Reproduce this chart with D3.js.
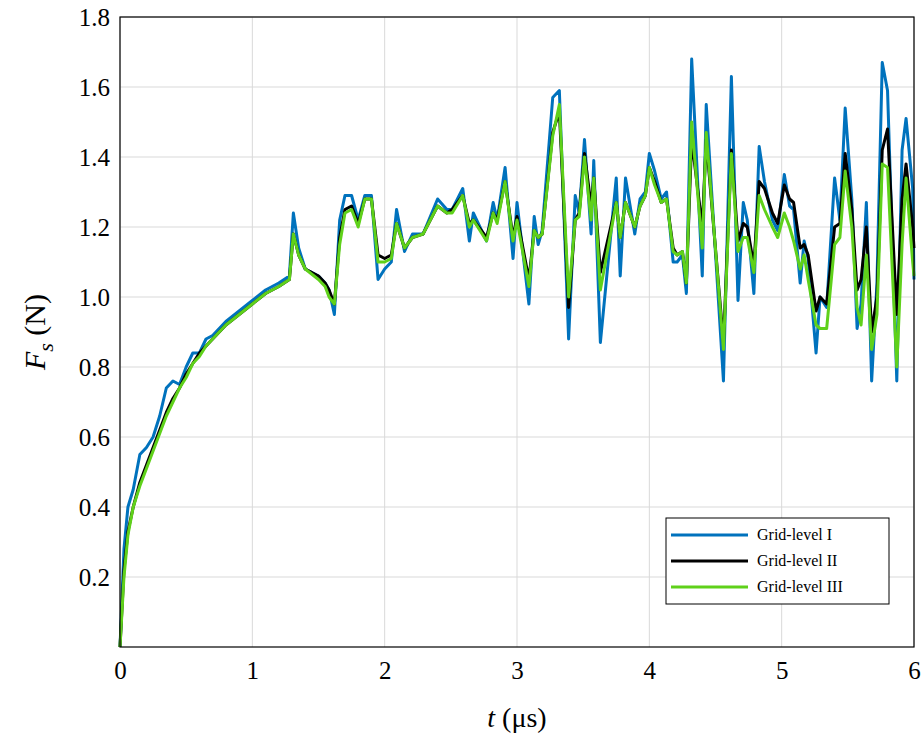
<!DOCTYPE html><html><head><meta charset="utf-8">
<script src="https://cdn.jsdelivr.net/npm/d3@7"></script>
<style>body{margin:0;background:#fff}</style></head><body>
<svg id="c" width="921" height="742"></svg>
<script>
const T=[0,0.03,0.06,0.1,0.15,0.2,0.25,0.3,0.35,0.4,0.45,0.5,0.55,0.6,0.65,0.7,0.8,0.9,1.0,1.1,1.2,1.28,1.31,1.35,1.4,1.5,1.55,1.58,1.62,1.66,1.7,1.75,1.8,1.85,1.9,1.95,2.0,2.05,2.09,2.15,2.21,2.29,2.4,2.47,2.51,2.59,2.64,2.67,2.77,2.82,2.85,2.91,2.97,3.0,3.09,3.13,3.16,3.19,3.27,3.32,3.39,3.44,3.47,3.51,3.56,3.58,3.63,3.75,3.78,3.82,3.89,3.93,3.97,4.0,4.04,4.09,4.13,4.18,4.21,4.25,4.28,4.32,4.4,4.43,4.56,4.62,4.67,4.71,4.74,4.79,4.83,4.87,4.93,4.97,5.02,5.06,5.09,5.14,5.17,5.2,5.26,5.29,5.34,5.4,5.44,5.48,5.53,5.57,5.6,5.64,5.68,5.72,5.76,5.8,5.87,5.91,5.94,5.99,6.0];
const gridI=[0,0.28,0.4,0.45,0.55,0.57,0.6,0.66,0.74,0.76,0.75,0.8,0.84,0.84,0.88,0.89,0.93,0.96,0.99,1.02,1.04,1.06,1.24,1.14,1.08,1.06,1.04,1.02,0.95,1.22,1.29,1.29,1.22,1.29,1.29,1.05,1.08,1.1,1.25,1.13,1.18,1.18,1.28,1.25,1.25,1.31,1.16,1.24,1.16,1.27,1.22,1.37,1.11,1.27,0.98,1.23,1.15,1.19,1.57,1.59,0.88,1.29,1.24,1.45,1.18,1.39,0.87,1.34,1.06,1.34,1.18,1.28,1.3,1.41,1.36,1.28,1.3,1.1,1.1,1.12,1.01,1.68,1.06,1.55,0.76,1.63,0.99,1.27,1.22,1.01,1.43,1.33,1.22,1.19,1.35,1.26,1.25,1.04,1.16,1.11,0.84,1.0,0.97,1.34,1.22,1.54,1.28,0.91,0.98,1.27,0.76,1.04,1.67,1.59,0.76,1.42,1.51,1.31,1.05];
const gridII=[0,0.22,0.33,0.4,0.47,0.52,0.57,0.62,0.67,0.71,0.74,0.78,0.81,0.84,0.86,0.88,0.92,0.95,0.98,1.01,1.03,1.05,1.18,1.12,1.08,1.06,1.04,1.02,0.98,1.17,1.25,1.26,1.21,1.28,1.28,1.12,1.11,1.12,1.21,1.14,1.17,1.18,1.26,1.24,1.25,1.29,1.21,1.22,1.17,1.24,1.22,1.33,1.17,1.23,1.05,1.19,1.17,1.18,1.47,1.53,0.97,1.22,1.24,1.41,1.26,1.34,1.07,1.27,1.17,1.27,1.2,1.26,1.29,1.37,1.33,1.27,1.28,1.14,1.12,1.13,1.04,1.45,1.2,1.45,0.87,1.42,1.16,1.21,1.2,1.09,1.33,1.31,1.24,1.21,1.32,1.28,1.27,1.14,1.15,1.12,0.96,1.0,0.98,1.2,1.21,1.41,1.25,1.02,1.05,1.2,0.9,1.0,1.42,1.48,0.95,1.28,1.38,1.2,1.14];
const gridIII=[0,0.2,0.32,0.4,0.46,0.51,0.56,0.61,0.66,0.7,0.74,0.77,0.81,0.83,0.86,0.88,0.92,0.95,0.98,1.01,1.03,1.05,1.18,1.12,1.08,1.05,1.03,1.0,0.98,1.15,1.24,1.25,1.2,1.28,1.28,1.1,1.1,1.11,1.21,1.14,1.17,1.18,1.26,1.24,1.24,1.29,1.2,1.22,1.16,1.24,1.21,1.33,1.16,1.22,1.03,1.19,1.17,1.18,1.46,1.55,1.0,1.22,1.23,1.4,1.22,1.34,1.02,1.27,1.17,1.27,1.2,1.26,1.29,1.37,1.32,1.27,1.28,1.13,1.12,1.13,1.04,1.5,1.14,1.47,0.85,1.41,1.13,1.17,1.17,1.07,1.29,1.25,1.2,1.17,1.24,1.2,1.16,1.08,1.12,1.05,0.92,0.91,0.91,1.15,1.17,1.36,1.2,0.97,0.92,1.12,0.85,0.95,1.38,1.37,0.8,1.15,1.34,1.1,1.06];
const seriesNames=["Grid-level I","Grid-level II","Grid-level III"];
const colors=["#0072BD","#000000","#5fd11a"];
const xTicks=[0,1,2,3,4,5,6];
const yTicks=[0.2,0.4,0.6,0.8,1.0,1.2,1.4,1.6,1.8];

const svg=d3.select("#c");
const L=120,R=914,Tp=17,B=647;
const x=d3.scaleLinear().domain([0,6]).range([L,R]);
const y=d3.scaleLinear().domain([0,1.8]).range([B,Tp]);
const font="'Liberation Serif','Times New Roman',serif";
const g=svg.append("g");
g.selectAll(".gx").data(xTicks).enter().append("line").attr("x1",d=>x(d)).attr("x2",d=>x(d)).attr("y1",Tp).attr("y2",B).attr("stroke","#d9d9d9").attr("stroke-width",1);
g.selectAll(".gy").data(yTicks).enter().append("line").attr("y1",d=>y(d)).attr("y2",d=>y(d)).attr("x1",L).attr("x2",R).attr("stroke","#d9d9d9").attr("stroke-width",1);
const xa=svg.append("g").attr("transform",`translate(0,${B})`).call(d3.axisBottom(x).tickValues(xTicks).tickFormat(d3.format("d")).tickSize(0).tickPadding(14));
const ya=svg.append("g").attr("transform",`translate(${L},0)`).call(d3.axisLeft(y).tickValues(yTicks).tickFormat(d3.format(".1f")).tickSize(0).tickPadding(10));
[xa,ya].forEach(a=>{a.select(".domain").remove();a.attr("font-family",null).attr("font-size",null);a.selectAll("text").style("font-family",font).style("font-size","25px").attr("fill","#000");});
const line=d3.line().x((d,i)=>x(T[i])).y(d=>y(d));
[gridI,gridII,gridIII].forEach((s,k)=>{
  svg.append("path").datum(s).attr("d",line).attr("fill","none").attr("stroke",colors[k]).attr("stroke-width",3).attr("stroke-linejoin","round");
});
svg.append("rect").attr("x",L).attr("y",Tp).attr("width",R-L).attr("height",B-Tp).attr("fill","none").attr("stroke","#000").attr("stroke-width",1.2);
const lg=svg.append("g");
lg.append("rect").attr("x",666).attr("y",518).attr("width",223).attr("height",86).attr("fill","#fff").attr("stroke","#000").attr("stroke-width",1);
seriesNames.forEach((n,i)=>{
  const yy=535+i*26;
  lg.append("line").attr("x1",671).attr("x2",748).attr("y1",yy).attr("y2",yy).attr("stroke",colors[i]).attr("stroke-width",3);
  lg.append("text").attr("x",757).attr("y",yy+5).text(n).style("font-family",font).style("font-size","16px");
});
const xl=svg.append("text").attr("x",517).attr("y",727).attr("text-anchor","middle").style("font-family",font).style("font-size","28px");
xl.append("tspan").attr("font-style","italic").text("t");
xl.append("tspan").text(" (μs)");
const yl=svg.append("text").attr("transform","translate(45,332) rotate(-90)").attr("text-anchor","middle").style("font-family",font).style("font-size","30px");
yl.append("tspan").attr("font-style","italic").text("F");
yl.append("tspan").attr("font-style","italic").attr("font-size",22).attr("dy",8).text("s");
yl.append("tspan").attr("dy",-8).text(" (N)");
</script></body></html>
